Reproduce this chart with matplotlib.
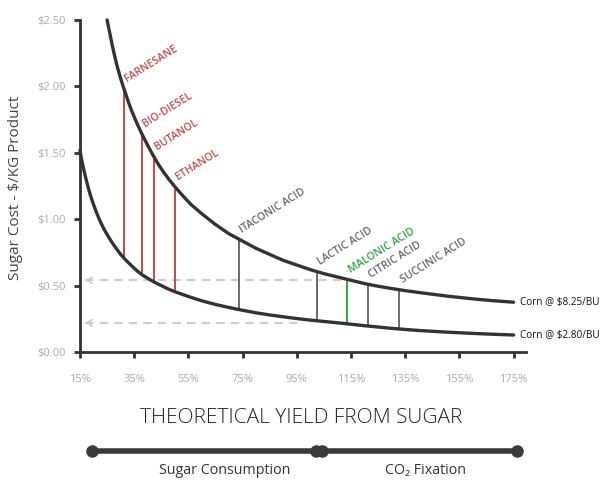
import numpy as np
import matplotlib
matplotlib.use("Agg")
import matplotlib.pyplot as plt

plt.rcParams["font.family"] = ["Open Sans", "DejaVu Sans"]

# cost curves read as (theoretical yield %, $/kg product)
high_yield = [25, 26, 27, 28, 29, 30, 31, 32, 33, 34, 35, 36.5, 38, 40, 42, 44, 46, 48, 50,
              53, 56, 60, 65, 70, 75, 80, 85, 90, 95, 100, 105, 110, 115, 120, 125, 130,
              135, 140, 150, 160, 167, 175]
high_cost = [2.50, 2.40, 2.30, 2.21, 2.13, 2.06, 1.995, 1.935, 1.875, 1.82, 1.77, 1.70, 1.635,
             1.555, 1.48, 1.41, 1.35, 1.295, 1.245, 1.175, 1.11, 1.04, 0.96, 0.89, 0.835, 0.78,
             0.735, 0.69, 0.655, 0.62, 0.59, 0.565, 0.54, 0.515, 0.495, 0.478, 0.462, 0.448,
             0.422, 0.400, 0.387, 0.375]
low_yield = [15, 15.5, 16, 17, 18, 19, 20, 21, 22, 23, 24, 25, 26.5, 28, 30, 32, 34, 36, 38, 40,
             42.5, 45, 47.5, 50, 55, 60, 65, 70, 75, 80, 85, 90, 95, 100, 105, 110, 115, 120,
             125, 130, 135, 140, 150, 160, 167, 175]
low_cost = [1.52, 1.46, 1.41, 1.32, 1.24, 1.17, 1.11, 1.055, 1.005, 0.96, 0.92, 0.885, 0.835,
            0.79, 0.735, 0.69, 0.65, 0.612, 0.58, 0.555, 0.525, 0.50, 0.475, 0.454, 0.418,
            0.385, 0.358, 0.335, 0.314, 0.295, 0.279, 0.265, 0.252, 0.24, 0.23, 0.22, 0.209,
            0.198, 0.188, 0.178, 0.17, 0.162, 0.15, 0.14, 0.134, 0.128]
curve_labels = ["Corn @ $8.25/BU", "Corn @ $2.80/BU"]

products = ["FARNESANE", "BIO-DIESEL", "BUTANOL", "ETHANOL", "ITACONIC ACID",
            "LACTIC ACID", "MALONIC ACID", "CITRIC ACID", "SUCCINIC ACID"]
product_yields = [31.2, 37.7, 42.3, 50.0, 73.7, 102.4, 113.7, 121.2, 132.8]
product_kind = ["fuel", "fuel", "fuel", "fuel", "chem", "chem", "malonic", "chem", "chem"]

guide_levels = [0.54, 0.22]
guide_ends = [114, 97]

x_ticks = [15, 35, 55, 75, 95, 115, 135, 155, 175]
y_ticks = [0.0, 0.5, 1.0, 1.5, 2.0, 2.5]

phases = ["Sugar Consumption", "CO\u2082 Fixation"]
phase_spans = [(19.5, 102.0), (104.4, 176.4)]
phase_label_x = [68.5, 142.6]

line_col = {"fuel": "#c9474b", "chem": "#6a6a6a", "malonic": "#2aa845"}
text_col = {"fuel": "#c8474a", "chem": "#666666", "malonic": "#27a844"}
dark = "#333333"

W, H = 601, 483
fig = plt.figure(figsize=(W / 100, H / 100), dpi=100)
ax = fig.add_axes([80 / W, 131 / H, 446 / W, 332 / H])
x_max = 15 + 446 / 2.71
ax.set_xlim(15, x_max)
ax.set_ylim(0, 2.5)

# dashed guides with arrowheads back to the cost axis
for lvl, end in zip(guide_levels, guide_ends):
    ax.plot([16.8, end], [lvl, lvl], color="#cccccc", lw=1.5, ls=(0, (4, 3)), zorder=1)
    ax.annotate("", xy=(16.0, lvl), xytext=(18.5, lvl),
                arrowprops=dict(arrowstyle="->,head_length=0.35,head_width=0.22",
                                color="#cccccc", lw=1.3), zorder=1)

# vertical spans between the two corn-price curves
for name, yv, kind in zip(products, product_yields, product_kind):
    top = np.interp(yv, high_yield, high_cost)
    bot = np.interp(yv, low_yield, low_cost)
    ax.plot([yv, yv], [bot, top], color=line_col[kind], lw=1.4, zorder=2)
    ax.annotate(name, xy=(yv, top), xytext=(5, 4), textcoords="offset pixels",
                rotation=32, rotation_mode="anchor", ha="left", va="bottom",
                fontsize=7.6, fontweight="semibold", color=text_col[kind])

ax.plot(high_yield, high_cost, color=dark, lw=2.4, zorder=3, solid_capstyle="round", clip_on=False)
ax.plot(low_yield, low_cost, color=dark, lw=2.4, zorder=3, solid_capstyle="round", clip_on=False)
for lab, xs, ys in zip(curve_labels, [high_yield, low_yield], [high_cost, low_cost]):
    ax.annotate(lab, xy=(xs[-1], ys[-1]), xytext=(6, 0), textcoords="offset pixels",
                ha="left", va="center", fontsize=7.2, color="#111111", annotation_clip=False)

for side in ("top", "right"):
    ax.spines[side].set_visible(False)
for side in ("left", "bottom"):
    ax.spines[side].set_color(dark)
    ax.spines[side].set_linewidth(2)
ax.set_xticks(x_ticks)
ax.set_xticklabels([f"{v}%" for v in x_ticks])
ax.set_yticks(y_ticks)
ax.set_yticklabels([f"${v:.2f}" for v in y_ticks])
ax.tick_params(axis="both", colors=dark, width=2, length=4, labelsize=8, labelcolor="#aaaaaa")
ax.tick_params(axis="x", pad=12)
ax.tick_params(axis="y", pad=6)
ax.set_ylabel("Sugar Cost - $/KG Product", fontsize=11, color="#444444")
ax.yaxis.set_label_coords(-0.128, 0.495)

fig.text(301 / W, 1 - 418 / H, "THEORETICAL YIELD FROM SUGAR", ha="center", va="center",
         fontsize=15, fontweight="light", color="#222222")

# phase bar under the title, aligned with the yield axis
bx = fig.add_axes([80 / W, 0, 446 / W, 131 / H])
bx.set_xlim(15, x_max)
bx.set_ylim(0, 131)
bx.axis("off")
bar_y = 483 - 451
for lab, (x0, x1), lx in zip(phases, phase_spans, phase_label_x):
    bx.plot([x0, x1], [bar_y, bar_y], color="#3a3a3a", lw=4, solid_capstyle="butt")
    bx.plot([x0, x1], [bar_y, bar_y], ls="none", marker="o", ms=8, color="#3a3a3a")
    bx.text(lx, 483 - 471, lab, ha="center", va="center", fontsize=10.3, color="#333333")

fig.savefig("out.png", dpi=100)
